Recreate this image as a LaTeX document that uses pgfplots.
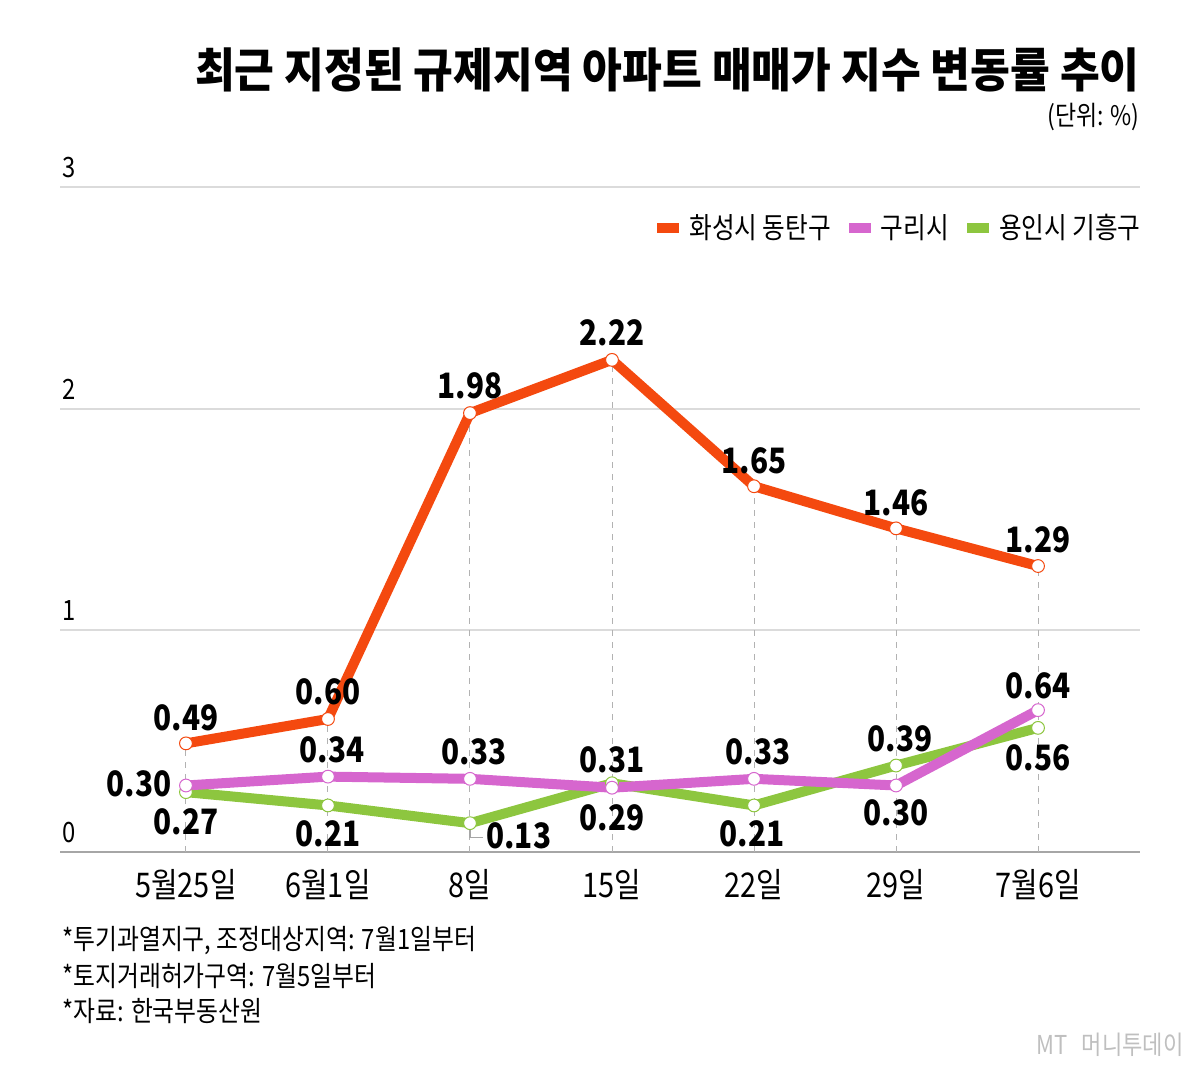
\documentclass[border=0pt]{standalone}
\usepackage{fontspec}
\setmainfont{Noto Sans CJK KR}
\newfontfamily\cond{Noto Sans CJK KR}[FakeStretch=0.85]
\newfontfamily\titlef{Noto Sans CJK KR}[FakeStretch=0.92]
\usepackage{pgfplots}
\pgfplotsset{compat=1.18}
\definecolor{orng}{RGB}{244,73,15}
\definecolor{pnk}{RGB}{214,102,206}
\definecolor{grn}{RGB}{141,198,63}
\tikzset{lbl/.style={font=\cond\bfseries\fontsize{17.5}{17.5}\selectfont, inner sep=0pt, anchor=center}}
\begin{document}
\begin{tikzpicture}
\begin{axis}[
 at={(0,0)}, anchor=south west,
 scale only axis, width=540pt, height=332.5pt,
 xmin=-0.887, xmax=6.718, ymin=0, ymax=3,
 axis line style={draw=none}, tick style={draw=none},
 major tick length=0pt,
 xtick={0,...,6}, xticklabels={5월25일,6월1일,8일,15일,22일,29일,7월6일},
 xticklabel style={font=\cond\fontsize{17}{17}\selectfont, anchor=center, yshift=-16.5pt, inner sep=0pt},
 ytick={1,2,3}, yticklabels={1,2,3},
 ymajorgrids, grid style={draw=black!14, line width=1pt},
 extra y ticks={0}, extra y tick labels={0},
 extra y tick style={grid style={draw=black!35, line width=1pt}},
 yticklabel style={font=\cond\fontsize{14}{14}\selectfont, anchor=south west, inner sep=0pt, xshift=1pt, yshift=4.5pt},
 clip=false,
 legend style={at={(1,0.938)}, anchor=east, xshift=2.5pt, draw=none, fill=none, inner sep=0pt,
   font=\cond\fontsize{14.5}{14.5}\selectfont, legend columns=3,
   /tikz/every odd column/.append style={column sep=3pt},
   /tikz/every even column/.append style={column sep=7pt}},
 legend image code/.code={\fill[#1, draw=none] (0pt,-2.5pt) rectangle (11pt,2.5pt);},
]
% drop lines
\addplot[ycomb, draw=black!30, dashed, line width=0.5pt, mark=none, forget plot]
 coordinates {(0,0.49) (1,0.60) (2,1.98) (3,2.22) (4,1.65) (5,1.46) (6,1.29)};
% green
\addplot[grn, line width=5pt, mark=*, mark size=3.2pt, mark options={fill=white, draw=grn, line width=0.5pt}, forget plot]
 coordinates {(0,0.27) (1,0.21) (2,0.13) (3,0.31) (4,0.21) (5,0.39) (6,0.56)};
% pink
\addplot[pnk, line width=5pt, mark=*, mark size=3.2pt, mark options={fill=white, draw=pnk, line width=0.5pt}, forget plot]
 coordinates {(0,0.30) (1,0.34) (2,0.33) (3,0.29) (4,0.33) (5,0.30) (6,0.64)};
% orange
\addplot[orng, line width=5pt, mark=*, mark size=3.2pt, mark options={fill=white, draw=orng, line width=0.5pt}, forget plot]
 coordinates {(0,0.49) (1,0.60) (2,1.98) (3,2.22) (4,1.65) (5,1.46) (6,1.29)};
\addlegendimage{fill=orng}\addlegendentry{화성시 동탄구}
\addlegendimage{fill=pnk}\addlegendentry{구리시}
\addlegendimage{fill=grn}\addlegendentry{용인시 기흥구}
% leader line for 0.13
\draw[black!35, line width=0.6pt] ([yshift=-3.5pt]axis cs:2,0.13) -- ([yshift=-7pt]axis cs:2,0.13) -- ([yshift=-7pt, xshift=6.5pt]axis cs:2,0.13);
% orange labels
\node[lbl, yshift=13pt] at (axis cs:0,0.49) {0.49};
\node[lbl, yshift=13.5pt] at (axis cs:1,0.60) {0.60};
\node[lbl, yshift=13.5pt] at (axis cs:2,1.98) {1.98};
\node[lbl, yshift=13.5pt] at (axis cs:3,2.22) {2.22};
\node[lbl, yshift=12.5pt] at (axis cs:4,1.65) {1.65};
\node[lbl, yshift=13pt] at (axis cs:5,1.46) {1.46};
\node[lbl, yshift=13pt] at (axis cs:6,1.29) {1.29};
% pink labels
\node[lbl, anchor=east, xshift=-7pt, yshift=1pt] at (axis cs:0,0.30) {0.30};
\node[lbl, yshift=13.5pt, xshift=2pt] at (axis cs:1,0.34) {0.34};
\node[lbl, yshift=13.5pt, xshift=2pt] at (axis cs:2,0.33) {0.33};
\node[lbl, yshift=-15pt] at (axis cs:3,0.29) {0.29};
\node[lbl, yshift=13.5pt, xshift=2pt] at (axis cs:4,0.33) {0.33};
\node[lbl, yshift=-13.5pt] at (axis cs:5,0.30) {0.30};
\node[lbl, yshift=12pt] at (axis cs:6,0.64) {0.64};
% green labels
\node[lbl, yshift=-15pt] at (axis cs:0,0.27) {0.27};
\node[lbl, yshift=-14pt] at (axis cs:1,0.21) {0.21};
\node[lbl, anchor=west, xshift=8pt, yshift=-6.5pt] at (axis cs:2,0.13) {0.13};
\node[lbl, yshift=11.5pt] at (axis cs:3,0.31) {0.31};
\node[lbl, yshift=-14pt, xshift=-1pt] at (axis cs:4,0.21) {0.21};
\node[lbl, yshift=13.5pt, xshift=2pt] at (axis cs:5,0.39) {0.39};
\node[lbl, yshift=-15pt] at (axis cs:6,0.56) {0.56};
\end{axis}
% title and notes
\node[anchor=base east, inner sep=0pt, font=\titlef\bfseries\fontsize{23.5}{23.5}\selectfont] at (540pt,382pt) {최근 지정된 규제지역 아파트 매매가 지수 변동률 추이};
\node[anchor=east, inner sep=0pt, font=\cond\fontsize{13.5}{13.5}\selectfont] at (540pt,367.5pt) {(단위: \%)};
\node[anchor=west, inner sep=0pt, font=\cond\fontsize{14}{14}\selectfont] at (1pt,-44.5pt) {*투기과열지구, 조정대상지역: 7월1일부터};
\node[anchor=west, inner sep=0pt, font=\cond\fontsize{14}{14}\selectfont] at (1pt,-62pt) {*토지거래허가구역: 7월5일부터};
\node[anchor=west, inner sep=0pt, font=\cond\fontsize{14}{14}\selectfont] at (1pt,-79.5pt) {*자료: 한국부동산원};
\node[anchor=east, inner sep=0pt, text=black!25, font=\cond\fontsize{13}{13}\selectfont] at (562pt,-96.5pt) {MT \, 머니투데이};
\pgfresetboundingbox
\path (-30pt,-108.5pt) rectangle (570pt,426pt);
\end{tikzpicture}
\end{document}
